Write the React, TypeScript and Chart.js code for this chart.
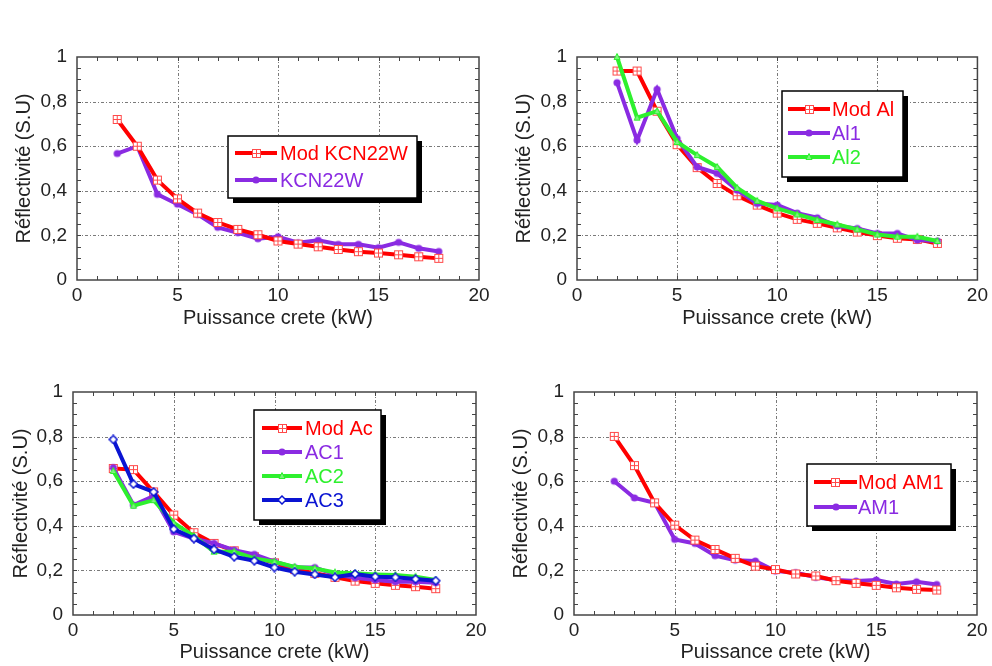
import React, { useEffect, useRef } from "react";
import { Chart, registerables } from "chart.js";

Chart.register(...registerables);

// ---------- data ----------
const puissance = [2, 3, 4, 5, 6, 7, 8, 9, 10, 11, 12, 13, 14, 15, 16, 17, 18];

const modKCN22W = [0.72, 0.6, 0.448, 0.364, 0.3, 0.258, 0.227, 0.203, 0.175, 0.161, 0.149, 0.137, 0.127, 0.121, 0.113, 0.104, 0.097];
const kcn22w = [0.567, 0.6, 0.384, 0.34, 0.294, 0.236, 0.212, 0.185, 0.194, 0.167, 0.178, 0.16, 0.16, 0.145, 0.169, 0.142, 0.128];

const modAl = [0.937, 0.937, 0.757, 0.607, 0.504, 0.433, 0.378, 0.336, 0.3, 0.272, 0.254, 0.234, 0.215, 0.199, 0.187, 0.182, 0.164];
const al1 = [0.885, 0.627, 0.855, 0.634, 0.507, 0.478, 0.403, 0.343, 0.336, 0.3, 0.279, 0.242, 0.231, 0.209, 0.209, 0.179, 0.175];
const al2 = [1.0, 0.728, 0.757, 0.619, 0.56, 0.507, 0.413, 0.355, 0.321, 0.294, 0.269, 0.249, 0.227, 0.204, 0.194, 0.194, 0.175];

const modAc = [0.657, 0.652, 0.552, 0.448, 0.369, 0.321, 0.288, 0.261, 0.234, 0.204, 0.187, 0.169, 0.152, 0.142, 0.133, 0.127, 0.118];
const ac1 = [0.661, 0.493, 0.533, 0.373, 0.343, 0.321, 0.291, 0.272, 0.239, 0.213, 0.213, 0.182, 0.167, 0.157, 0.149, 0.149, 0.145];
const ac2 = [0.646, 0.49, 0.515, 0.413, 0.354, 0.284, 0.284, 0.254, 0.239, 0.216, 0.209, 0.191, 0.187, 0.182, 0.179, 0.172, 0.157];
const ac3 = [0.787, 0.587, 0.552, 0.385, 0.343, 0.294, 0.261, 0.243, 0.213, 0.194, 0.182, 0.169, 0.184, 0.172, 0.169, 0.161, 0.154];

const modAM1 = [0.801, 0.67, 0.503, 0.403, 0.336, 0.294, 0.254, 0.219, 0.204, 0.184, 0.175, 0.154, 0.142, 0.133, 0.122, 0.115, 0.112];
const am1 = [0.6, 0.525, 0.503, 0.339, 0.321, 0.266, 0.246, 0.242, 0.197, 0.19, 0.169, 0.157, 0.152, 0.157, 0.139, 0.149, 0.137];

const xTickLabels = ["0", "5", "10", "15", "20"];
const yTickLabels = ["0", "0,2", "0,4", "0,6", "0,8", "1"];
const xTitle = "Puissance crete (kW)";
const yTitle = "Réflectivité (S.U)";

// ---------- styles ----------
const RED = "#ff0000";
const PURPLE = "#8a2be2";
const GREEN = "#2ef02e";
const BLUE = "#0a14d2";
const FONT = '"Liberation Sans", Arial, sans-serif';

type MarkerKind = "squarePlus" | "dot" | "triangle" | "diamond";

function makeMarker(kind: MarkerKind, color: string): HTMLCanvasElement {
  const c = document.createElement("canvas");
  const s = kind === "squarePlus" ? 11 : 10;
  c.width = s;
  c.height = s;
  const g = c.getContext("2d")!;
  const m = s / 2;
  if (kind === "squarePlus") {
    g.fillStyle = "#ffffff";
    g.fillRect(1, 1, s - 2, s - 2);
    g.strokeStyle = "#ff4a4a";
    g.lineWidth = 1;
    g.strokeRect(1.5, 1.5, s - 3, s - 3);
    g.beginPath();
    g.moveTo(m, 1.5);
    g.lineTo(m, s - 1.5);
    g.moveTo(1.5, m);
    g.lineTo(s - 1.5, m);
    g.stroke();
  } else if (kind === "dot") {
    g.fillStyle = color;
    g.beginPath();
    g.arc(m, m, 3.6, 0, Math.PI * 2);
    g.fill();
  } else if (kind === "triangle") {
    g.fillStyle = "#7af57a";
    g.strokeStyle = color;
    g.lineWidth = 1;
    g.beginPath();
    g.moveTo(m, 1.5);
    g.lineTo(s - 2, s - 2.5);
    g.lineTo(2, s - 2.5);
    g.closePath();
    g.fill();
    g.stroke();
  } else {
    g.fillStyle = "#ffffff";
    g.strokeStyle = color;
    g.lineWidth = 1.5;
    g.beginPath();
    g.moveTo(m, 1);
    g.lineTo(s - 1, m);
    g.lineTo(m, s - 1);
    g.lineTo(1, m);
    g.closePath();
    g.fill();
    g.stroke();
  }
  return c;
}

type Series = { label: string; data: number[]; color: string; marker: MarkerKind; order: number };

type Panel = {
  left: number;
  top: number;
  width: number;
  height: number;
  area: { left: number; right: number; top: number; bottom: number };
  yTitleOffset: number;
  xTitleBottom: number;
  legend: { x: number; y: number; w: number; h: number; rows: number[]; lx1: number; lx2: number; tx: number };
  series: Series[];
};

const panels: Panel[] = [
  {
    left: 0, top: 0, width: 496, height: 333,
    area: { left: 77, right: 479, top: 57, bottom: 280 },
    yTitleOffset: 12, xTitleBottom: 3,
    legend: { x: 228, y: 136, w: 189, h: 62, rows: [153, 180], lx1: 235, lx2: 277, tx: 280 },
    series: [
      { label: "Mod KCN22W", data: modKCN22W, color: RED, marker: "squarePlus", order: 0 },
      { label: "KCN22W", data: kcn22w, color: PURPLE, marker: "dot", order: 1 },
    ],
  },
  {
    left: 496, top: 0, width: 496, height: 333,
    area: { left: 81, right: 486, top: 57, bottom: 280 },
    yTitleOffset: 16, xTitleBottom: 3,
    legend: { x: 286, y: 91, w: 121, h: 86, rows: [109, 133, 157], lx1: 292, lx2: 334, tx: 336 },
    series: [
      { label: "Mod Al", data: modAl, color: RED, marker: "squarePlus", order: 2 },
      { label: "Al1", data: al1, color: PURPLE, marker: "dot", order: 1 },
      { label: "Al2", data: al2, color: GREEN, marker: "triangle", order: 0 },
    ],
  },
  {
    left: 0, top: 333, width: 496, height: 333,
    area: { left: 73, right: 476, top: 59, bottom: 282 },
    yTitleOffset: 9, xTitleBottom: 2,
    legend: { x: 254, y: 77, w: 127, h: 110, rows: [95, 119, 143, 167], lx1: 262, lx2: 302, tx: 305 },
    series: [
      { label: "Mod Ac", data: modAc, color: RED, marker: "squarePlus", order: 3 },
      { label: "AC1", data: ac1, color: PURPLE, marker: "dot", order: 2 },
      { label: "AC2", data: ac2, color: GREEN, marker: "triangle", order: 1 },
      { label: "AC3", data: ac3, color: BLUE, marker: "diamond", order: 0 },
    ],
  },
  {
    left: 496, top: 333, width: 496, height: 333,
    area: { left: 78, right: 481, top: 59, bottom: 282 },
    yTitleOffset: 13, xTitleBottom: 2,
    legend: { x: 311, y: 131, w: 144, h: 62, rows: [149, 174], lx1: 318, lx2: 361, tx: 362 },
    series: [
      { label: "Mod AM1", data: modAM1, color: RED, marker: "squarePlus", order: 0 },
      { label: "AM1", data: am1, color: PURPLE, marker: "dot", order: 1 },
    ],
  },
];

function PanelChart({ panel }: { panel: Panel }) {
  const ref = useRef<HTMLCanvasElement | null>(null);

  useEffect(() => {
    const canvas = ref.current;
    if (!canvas) return;
    const markers = panel.series.map((s) => makeMarker(s.marker, s.color));

    const framePlugin = {
      id: "frameGrid",
      beforeDatasetsDraw(chart: any) {
        const { ctx, chartArea } = chart;
        const { left, right, top, bottom } = chartArea;
        const xs = chart.scales.x;
        const ys = chart.scales.y;
        ctx.save();
        ctx.strokeStyle = "#7a7a7a";
        ctx.lineWidth = 1;
        ctx.setLineDash([3, 2, 1, 2]);
        [5, 10, 15].forEach((v) => {
          const px = Math.round(xs.getPixelForValue(v)) + 0.5;
          ctx.beginPath();
          ctx.moveTo(px, top);
          ctx.lineTo(px, bottom);
          ctx.stroke();
        });
        [0.2, 0.4, 0.6, 0.8].forEach((v) => {
          const py = Math.round(ys.getPixelForValue(v)) + 0.5;
          ctx.beginPath();
          ctx.moveTo(left, py);
          ctx.lineTo(right, py);
          ctx.stroke();
        });
        ctx.setLineDash([]);
        ctx.strokeStyle = "#444";
        for (let v = 1; v < 20; v++) {
          const px = Math.round(xs.getPixelForValue(v)) + 0.5;
          ctx.beginPath();
          ctx.moveTo(px, bottom);
          ctx.lineTo(px, bottom - 4);
          ctx.moveTo(px, top);
          ctx.lineTo(px, top + 4);
          ctx.stroke();
        }
        for (let i = 1; i < 20; i++) {
          const py = Math.round(ys.getPixelForValue(i * 0.05)) + 0.5;
          ctx.beginPath();
          ctx.moveTo(left, py);
          ctx.lineTo(left + 4, py);
          ctx.moveTo(right, py);
          ctx.lineTo(right - 4, py);
          ctx.stroke();
        }
        ctx.lineWidth = 1.5;
        ctx.strokeStyle = "#444";
        ctx.strokeRect(left, top, right - left, bottom - top);
        ctx.restore();
      },
    };

    const legendPlugin = {
      id: "boxLegend",
      afterDatasetsDraw(chart: any) {
        const { ctx } = chart;
        const L = panel.legend;
        ctx.save();
        ctx.fillStyle = "#000";
        ctx.fillRect(L.x + 5, L.y + 5, L.w, L.h);
        ctx.fillStyle = "#fff";
        ctx.fillRect(L.x, L.y, L.w, L.h);
        ctx.strokeStyle = "#000";
        ctx.lineWidth = 1.5;
        ctx.strokeRect(L.x, L.y, L.w, L.h);
        panel.series.forEach((s, i) => {
          const y = L.rows[i];
          ctx.strokeStyle = s.color;
          ctx.lineWidth = 4;
          ctx.beginPath();
          ctx.moveTo(L.lx1, y);
          ctx.lineTo(L.lx2, y);
          ctx.stroke();
          const mk = markers[i];
          ctx.drawImage(mk, Math.round((L.lx1 + L.lx2) / 2 - mk.width / 2), Math.round(y - mk.height / 2));
          ctx.fillStyle = s.color;
          ctx.font = `20px ${FONT}`;
          ctx.textBaseline = "middle";
          ctx.textAlign = "left";
          ctx.fillText(s.label, L.tx, y + 1);
        });
        ctx.restore();
      },
    };

    const a = panel.area;
    const chart = new Chart(canvas, {
      type: "line",
      data: {
        datasets: panel.series.map((s, i) => ({
          label: s.label,
          data: puissance.map((x, j) => ({ x, y: s.data[j] })),
          borderColor: s.color,
          backgroundColor: s.color,
          borderWidth: 4,
          pointStyle: markers[i] as any,
          pointRadius: 4,
          tension: 0,
          fill: false,
          clip: false as any,
          order: s.order,
        })),
      },
      options: {
        animation: false,
        responsive: false,
        devicePixelRatio: 1,
        events: [],
        layout: { padding: { left: 0, top: a.top, right: panel.width - a.right, bottom: 0 } },
        plugins: { legend: { display: false }, tooltip: { enabled: false } },
        scales: {
          x: {
            type: "linear",
            min: 0,
            max: 20,
            afterFit: (s: any) => {
              s.height = panel.height - a.bottom;
            },
            afterBuildTicks: (s: any) => {
              s.ticks = xTickLabels.map((_, i) => ({ value: i * 5 }));
            },
            grid: { display: false, drawTicks: false },
            border: { display: false },
            ticks: {
              padding: 4,
              color: "#222",
              font: { family: FONT, size: 19 },
              callback: (_v: any, i: number) => xTickLabels[i],
            },
            title: {
              display: true,
              text: xTitle,
              color: "#222",
              font: { family: FONT, size: 20 },
              padding: { top: 0, bottom: panel.xTitleBottom },
            },
          },
          y: {
            type: "linear",
            min: 0,
            max: 1,
            afterFit: (s: any) => {
              s.width = a.left;
            },
            afterBuildTicks: (s: any) => {
              s.ticks = yTickLabels.map((_, i) => ({ value: i * 0.2 }));
            },
            grid: { display: false, drawTicks: false },
            border: { display: false },
            ticks: {
              padding: 10,
              color: "#222",
              font: { family: FONT, size: 19 },
              callback: (_v: any, i: number) => yTickLabels[i],
            },
            title: {
              display: true,
              text: yTitle,
              color: "#222",
              font: { family: FONT, size: 20 },
              padding: { top: panel.yTitleOffset, bottom: 0 },
            },
          },
        },
      },
      plugins: [framePlugin, legendPlugin],
    } as any);
    return () => chart.destroy();
  }, [panel]);

  return (
    <canvas
      ref={ref}
      width={panel.width}
      height={panel.height}
      style={{ position: "absolute", left: panel.left, top: panel.top, width: panel.width, height: panel.height }}
    />
  );
}

export default function App() {
  return (
    <div style={{ position: "absolute", left: 0, top: 0, width: 992, height: 666, background: "#fff", overflow: "hidden" }}>
      {panels.map((p, i) => (
        <PanelChart key={i} panel={p} />
      ))}
    </div>
  );
}
